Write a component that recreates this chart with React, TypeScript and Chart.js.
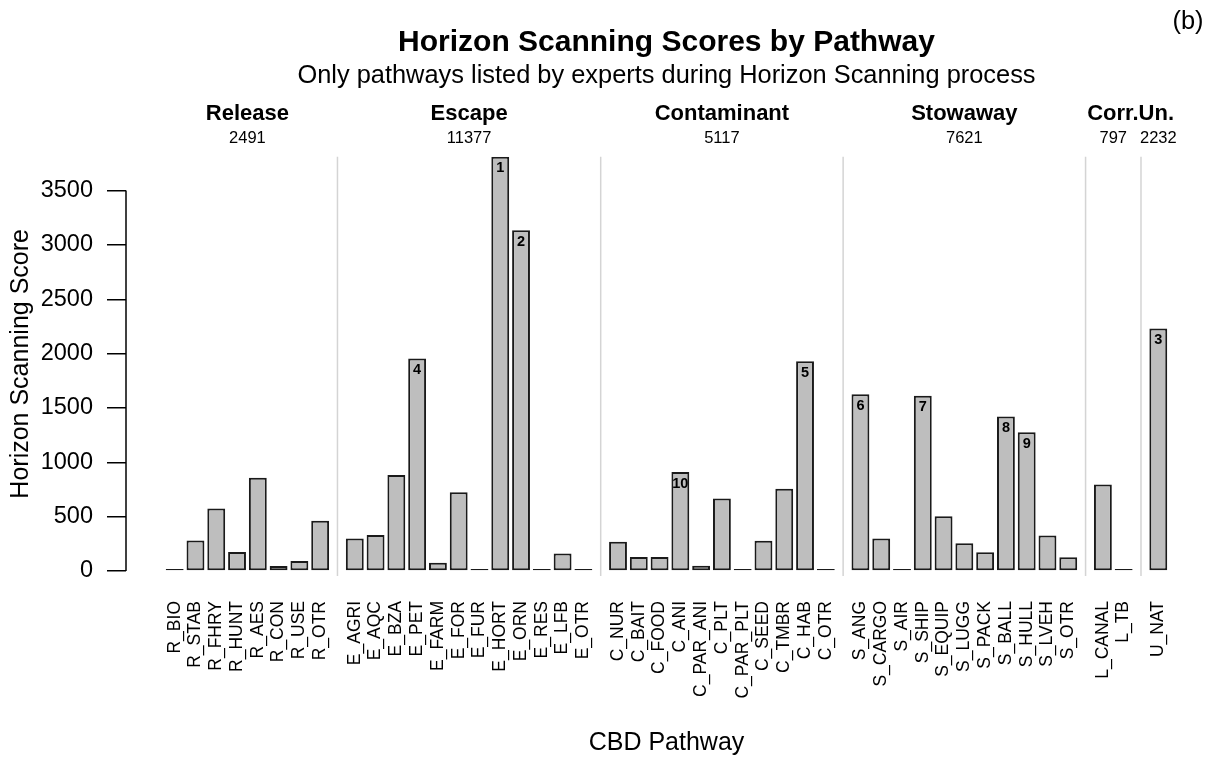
import React, { useEffect, useRef } from "react";
import { Chart, registerables } from "chart.js";

Chart.register(...registerables);

// ---------- data ----------
const CATEGORIES = [
  "R_BIO", "R_STAB", "R_FHRY", "R_HUNT", "R_AES", "R_CON", "R_USE", "R_OTR",
  "E_AGRI", "E_AQC", "E_BZA", "E_PET", "E_FARM", "E_FOR", "E_FUR", "E_HORT", "E_ORN", "E_RES", "E_LFB", "E_OTR",
  "C_NUR", "C_BAIT", "C_FOOD", "C_ANI", "C_PAR_ANI", "C_PLT", "C_PAR_PLT", "C_SEED", "C_TMBR", "C_HAB", "C_OTR",
  "S_ANG", "S_CARGO", "S_AIR", "S_SHIP", "S_EQUIP", "S_LUGG", "S_PACK", "S_BALL", "S_HULL", "S_LVEH", "S_OTR",
  "L_CANAL", "L_TB",
  "U_NAT",
];

const RELEASE_VALUES = [0, 281, 574, 174, 859, 47, 93, 463];
const ESCAPE_VALUES = [298, 331, 883, 1956, 77, 724, 0, 3812, 3136, 0, 160, 0];
const CONTAMINANT_VALUES = [270, 128, 128, 910, 48, 668, 0, 278, 757, 1930, 0];
const STOWAWAY_VALUES = [1627, 299, 0, 1612, 504, 256, 173, 1421, 1277, 326, 126];
const CORRIDOR_VALUES = [797, 0];
const UNAIDED_VALUES = [2232];

const GROUP_VALUES = [
  RELEASE_VALUES,
  ESCAPE_VALUES,
  CONTAMINANT_VALUES,
  STOWAWAY_VALUES,
  CORRIDOR_VALUES,
  UNAIDED_VALUES,
];
const GROUP_TOTALS = [2491, 11377, 5117, 7621, 797, 2232];
const HEADERS = ["Release", "Escape", "Contaminant", "Stowaway", "Corr.Un."];
const HEADER_SPANS = [[0, 0], [1, 1], [2, 2], [3, 3], [4, 5]];
const Y_TICKS = [0, 500, 1000, 1500, 2000, 2500, 3000, 3500];
const TOP_N = 10;

const TITLE = "Horizon Scanning Scores by Pathway";
const SUBTITLE = "Only pathways listed by experts during Horizon Scanning process";
const PANEL_TAG = "(b)";
const X_TITLE = "CBD Pathway";
const Y_TITLE = "Horizon Scanning Score";

// ---------- layout helpers (R barplot style spacing) ----------
const FONT = '"Liberation Sans", Arial, Helvetica, sans-serif';
const BAR_SPACE = 0.2;
const GROUP_SPACE = 1.0;

const VALUES: number[] = ([] as number[]).concat(...GROUP_VALUES);
const GROUP_OF: number[] = [];
GROUP_VALUES.forEach((g, gi) => g.forEach(() => GROUP_OF.push(gi)));
const POSITIONS = VALUES.map((_, i) => i * (1 + BAR_SPACE) + GROUP_OF[i] * (GROUP_SPACE - BAR_SPACE));
const GROUP_FIRST: number[] = [];
const GROUP_LAST: number[] = [];
GROUP_OF.forEach((g, i) => {
  if (GROUP_FIRST[g] === undefined) GROUP_FIRST[g] = i;
  GROUP_LAST[g] = i;
});
const X_LO = POSITIONS[0] - 0.5;
const X_HI = POSITIONS[POSITIONS.length - 1] + 0.5;
const X_PAD = (X_HI - X_LO) * 0.04;

const RANK_ORDER = VALUES.map((v, i) => i).sort((a, b) => VALUES[b] - VALUES[a]).slice(0, TOP_N);

const overlayPlugin = {
  id: "overlay",
  beforeDatasetsDraw(chart: any) {
    const { ctx, chartArea } = chart;
    const xs = chart.scales.x;
    ctx.save();
    ctx.strokeStyle = "#d4d4d4";
    ctx.lineWidth = 1.5;
    for (let g = 0; g < GROUP_VALUES.length - 1; g++) {
      const a = xs.getPixelForValue(POSITIONS[GROUP_LAST[g]]);
      const b = xs.getPixelForValue(POSITIONS[GROUP_FIRST[g + 1]]);
      const x = (a + b) / 2;
      ctx.beginPath();
      ctx.moveTo(x, chartArea.top);
      ctx.lineTo(x, chartArea.bottom + 5);
      ctx.stroke();
    }
    ctx.restore();
  },
  afterDatasetsDraw(chart: any) {
    const { ctx } = chart;
    const meta = chart.getDatasetMeta(0);
    ctx.save();
    ctx.fillStyle = "#000";
    ctx.font = `bold 14.5px ${FONT}`;
    ctx.textAlign = "center";
    ctx.textBaseline = "middle";
    RANK_ORDER.forEach((idx, r) => {
      const el = meta.data[idx];
      ctx.fillText(String(r + 1), el.x, el.y + 11.5);
    });
    ctx.restore();
  },
  afterDraw(chart: any) {
    const { ctx, chartArea } = chart;
    const xs = chart.scales.x;
    const ys = chart.scales.y;
    ctx.save();
    // y axis line spanning the tick range
    ctx.strokeStyle = "#000";
    ctx.lineWidth = 1.5;
    ctx.beginPath();
    ctx.moveTo(chartArea.left, ys.getPixelForValue(Y_TICKS[0]));
    ctx.lineTo(chartArea.left, ys.getPixelForValue(Y_TICKS[Y_TICKS.length - 1]));
    ctx.stroke();

    const cx = (chartArea.left + chartArea.right) / 2;
    ctx.fillStyle = "#000";
    ctx.textAlign = "center";
    ctx.textBaseline = "middle";
    ctx.font = `bold 30px ${FONT}`;
    ctx.fillText(TITLE, cx, 43);
    ctx.font = `25.4px ${FONT}`;
    ctx.fillText(SUBTITLE, cx, 76);
    ctx.fillText(PANEL_TAG, 1188, 22);

    ctx.font = `bold 22px ${FONT}`;
    HEADERS.forEach((h, k) => {
      const [g0, g1] = HEADER_SPANS[k];
      const x0 = xs.getPixelForValue(POSITIONS[GROUP_FIRST[g0]]);
      const x1 = xs.getPixelForValue(POSITIONS[GROUP_LAST[g1]]);
      ctx.fillText(h, (x0 + x1) / 2, 114);
    });
    ctx.font = `16.5px ${FONT}`;
    GROUP_TOTALS.forEach((t, g) => {
      const x0 = xs.getPixelForValue(POSITIONS[GROUP_FIRST[g]]);
      const x1 = xs.getPixelForValue(POSITIONS[GROUP_LAST[g]]);
      ctx.fillText(String(t), (x0 + x1) / 2, 138);
    });
    ctx.restore();
  },
};

export default function App() {
  const ref = useRef<HTMLCanvasElement | null>(null);

  useEffect(() => {
    document.body.style.margin = "0";
    const canvas = ref.current;
    if (!canvas) return;
    const chart = new Chart(canvas, {
      type: "bar",
      data: {
        datasets: [
          {
            data: POSITIONS.map((x, i) => ({ x, y: VALUES[i] })),
            backgroundColor: "#bebebe",
            borderColor: "#1a1a1a",
            borderWidth: 2,
            borderSkipped: false,
            minBarLength: 2,
            barPercentage: 0.86,
            categoryPercentage: 1,
          } as any,
        ],
      },
      options: {
        responsive: false,
        animation: false,
        devicePixelRatio: 1,
        layout: { padding: { top: 156.7, right: 9, left: 0, bottom: 0 } },
        plugins: {
          legend: { display: false },
          tooltip: { enabled: false },
          title: { display: false },
        },
        scales: {
          x: {
            type: "linear",
            offset: false,
            min: X_LO - X_PAD,
            max: X_HI + X_PAD,
            grid: { display: false, offset: false },
            border: { display: false },
            afterBuildTicks: (scale: any) => {
              scale.ticks = POSITIONS.map((v) => ({ value: v }));
            },
            afterFit: (scale: any) => {
              scale.height = 187;
            },
            ticks: {
              autoSkip: false,
              minRotation: 90,
              maxRotation: 90,
              padding: 22,
              color: "#000",
              font: { family: FONT, size: 17.5 },
              callback: (_v: any, i: number) => CATEGORIES[i],
            },
            title: {
              display: true,
              text: X_TITLE,
              color: "#000",
              font: { family: FONT, size: 25 },
              padding: { top: 0, bottom: 0 },
            },
          },
          y: {
            type: "linear",
            min: 0,
            max: Math.max(...VALUES),
            afterBuildTicks: (scale: any) => {
              scale.ticks = Y_TICKS.map((v) => ({ value: v }));
            },
            afterFit: (scale: any) => {
              scale.width = 126;
            },
            grid: {
              display: true,
              drawOnChartArea: false,
              drawTicks: true,
              tickLength: 19,
              color: "#000",
              lineWidth: 1.5,
            },
            border: { display: false },
            ticks: {
              padding: 14,
              color: "#000",
              font: { family: FONT, size: 23.5 },
              callback: (v: any) => String(v),
            },
            title: {
              display: true,
              text: Y_TITLE,
              color: "#000",
              font: { family: FONT, size: 25 },
              padding: { top: 6, bottom: 0 },
            },
          },
        },
      },
      plugins: [overlayPlugin],
    });
    return () => chart.destroy();
  }, []);

  return (
    <div style={{ width: 1216, height: 758, background: "#fff" }}>
      <canvas ref={ref} width={1216} height={758} style={{ display: "block" }} />
    </div>
  );
}
